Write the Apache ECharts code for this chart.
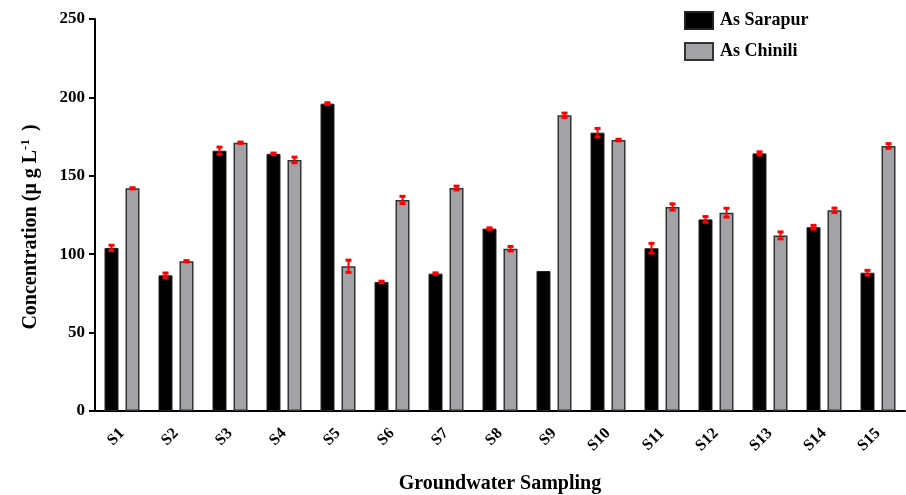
<!DOCTYPE html>
<html>
<head>
<meta charset="utf-8">
<script src="https://cdn.jsdelivr.net/npm/echarts@6/dist/echarts.min.js"></script>
<style>html,body{margin:0;padding:0;background:#fff;}#c{width:906px;height:495px;}</style>
</head>
<body>
<div id="c"></div>
<script>
var categories = ['S1','S2','S3','S4','S5','S6','S7','S8','S9','S10','S11','S12','S13','S14','S15'];
var sarapur = [104, 86.5, 166, 164, 196, 82.3, 87.6, 116.3, 89.3, 177.5, 103.8, 122.2, 164.3, 117.2, 88.2];
var sarapurErr = [1.7, 1.5, 2.3, 0.5, 0.6, 0.5, 0.5, 0.5, 0, 2.7, 3.1, 1.8, 1.0, 1.2, 1.5];
var chinili = [142, 95.5, 171.1, 160.1, 92.3, 134.6, 142.2, 103.5, 188.6, 172.8, 130.1, 126.5, 112.0, 128.0, 169.0];
var chiniliErr = [0.4, 0.4, 0.4, 1.8, 3.9, 2.3, 1.2, 1.4, 1.4, 0.5, 2.0, 2.8, 2.2, 1.4, 1.5];
var yTicks = [0, 50, 100, 150, 200, 250];

var font = '"Liberation Serif", "Times New Roman", serif';

function errSeries(vals, errs, side) {
  var data = vals.map(function (v, i) { return [i, v, errs[i]]; });
  return {
    type: 'custom',
    z: 10,
    silent: true,
    data: data,
    renderItem: function (params, api) {
      var i = api.value(0), v = api.value(1), e = api.value(2);
      if (!e) return null;
      var band = api.size([1, 0])[0];
      var off = band * (10.5 / 54) * side;
      var top = api.coord([i, v + e]);
      var bot = api.coord([i, v - e]);
      var x = top[0] + off;
      var red = '#ff0000';
      return {
        type: 'group',
        children: [
          { type: 'rect', shape: { x: x - 1, y: top[1], width: 2, height: bot[1] - top[1] }, style: { fill: red } },
          { type: 'rect', shape: { x: x - 3, y: top[1] - 1.5, width: 6, height: 3 }, style: { fill: red } },
          { type: 'rect', shape: { x: x - 3, y: bot[1] - 1.5, width: 6, height: 3 }, style: { fill: red } }
        ]
      };
    }
  };
}

var chart = echarts.init(document.getElementById('c'), null, { renderer: 'canvas' });
chart.setOption({
  animation: false,
  backgroundColor: '#fff',
  grid: { left: 95, right: 1, top: 19, bottom: 84, containLabel: false, outerBoundsMode: 'none' },
  legend: {
    data: ['As Sarapur', 'As Chinili'],
    orient: 'vertical',
    left: 679, top: 6,
    itemWidth: 28, itemHeight: 17, itemGap: 12,
    textStyle: { fontFamily: font, fontWeight: 'bold', fontSize: 18, color: '#000', padding: [0, 0, 0, 2] },
    icon: 'rect'
  },
  xAxis: {
    type: 'category',
    data: categories,
    axisLine: { lineStyle: { color: '#000', width: 2 } },
    axisTick: { alignWithLabel: true, length: 6, lineStyle: { color: '#000', width: 2 } },
    axisLabel: { rotate: 45, margin: 20, fontFamily: font, fontWeight: 'bold', fontSize: 16, color: '#000' },
    name: 'Groundwater Sampling',
    nameLocation: 'middle',
    nameGap: 63,
    nameTextStyle: { fontFamily: font, fontWeight: 'bold', fontSize: 20, color: '#000' }
  },
  yAxis: {
    type: 'value',
    min: 0, max: 250, interval: 50,
    splitLine: { show: false },
    axisLine: { show: true, lineStyle: { color: '#000', width: 2 } },
    axisTick: { show: true, length: 6, lineStyle: { color: '#000', width: 2 } },
    axisLabel: {
      fontFamily: font, fontWeight: 'bold', fontSize: 17, color: '#000', margin: 10,
      formatter: function (v) { return yTicks.indexOf(v) >= 0 ? String(v) : ''; }
    },
    name: 'Concentration (\u03bc g L{sup|-1}{p|)}',
    nameLocation: 'middle',
    nameGap: 53,
    nameTextStyle: {
      fontFamily: font, fontWeight: 'bold', fontSize: 20, color: '#000',
      padding: [0, 24, 0, 0],
      rich: {
        sup: { fontFamily: font, fontWeight: 'bold', fontSize: 13, color: '#000', verticalAlign: 'top', padding: [0, 0, 10, 0] },
        p: { fontFamily: font, fontWeight: 'bold', fontSize: 20, color: '#000', padding: [0, 0, 0, 8] }
      }
    }
  },
  series: [
    {
      name: 'As Sarapur', type: 'bar', data: sarapur,
      barWidth: 14, barGap: '50%',
      itemStyle: { color: '#000000', borderColor: '#222', borderWidth: 1 }
    },
    {
      name: 'As Chinili', type: 'bar', data: chinili,
      barWidth: 14, barGap: '50%',
      itemStyle: { color: '#a3a2a7', borderColor: '#333', borderWidth: 1.5 }
    },
    errSeries(sarapur, sarapurErr, -1),
    errSeries(chinili, chiniliErr, 1)
  ]
});
</script>
</body>
</html>
